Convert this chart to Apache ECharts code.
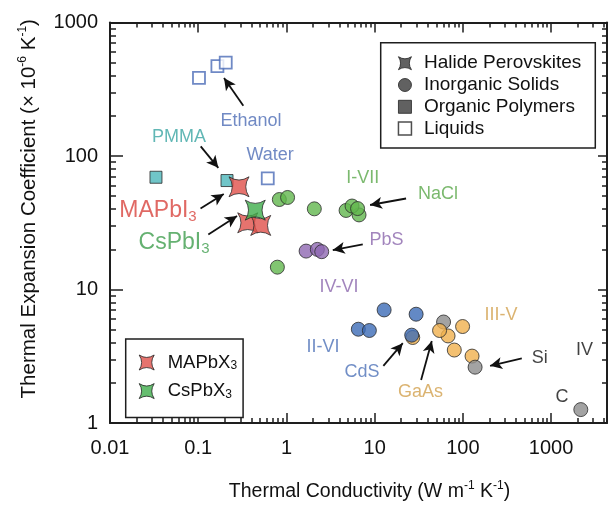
<!DOCTYPE html>
<html>
<head>
<meta charset="utf-8">
<script src="https://cdn.jsdelivr.net/npm/echarts@6/dist/echarts.min.js"></script>
<style>
  html, body { margin: 0; padding: 0; background: #fff; }
  #chart { width: 609px; height: 507px; }
</style>
</head>
<body>
<div id="chart"></div>
<script>
// Each point: [thermal conductivity (W m^-1 K^-1), thermal expansion coefficient (1e-6 K^-1)]
const liquids = [[0.102, 385], [0.165, 471], [0.205, 501], [0.614, 68]];
const polymers = [[0.0332, 69.3], [0.212, 65.5]];
const maPbX3 = [[0.290, 58.8], [0.364, 31.6], [0.511, 30.2]];
const csPbX3 = [[0.443, 39.3]];
const solidsI_VII = [[0.789, 14.7], [0.831, 47.2], [1.03, 48.9], [2.07, 40.2],
                     [4.74, 39.1], [6.65, 36.2], [5.54, 42.2], [6.40, 40.4]];
const solidsIV_VI = [[1.67, 19.4], [2.24, 19.97], [2.51, 19.2]];
const solidsII_VI = [[6.53, 5.04], [8.71, 4.93], [12.8, 7.03], [29.5, 6.53], [26.3, 4.55]];
const solidsIII_V = [[27.0, 4.37], [67.9, 4.49], [54.4, 4.93], [99.2, 5.28], [79.9, 3.52], [127, 3.17]];
const solidsIV = [[60.4, 5.71], [137.5, 2.62], [2170, 1.26]];

// Axis ranges and labelled decades
const xRange = [0.01, 4300];
const yRange = [1, 1000];
const xDecades = [0.01, 0.1, 1, 10, 100, 1000];
const yDecades = [1, 10, 100, 1000];

// Text annotations (anchored in data coordinates) and arrows (tail -> head)
const notes = [
  { text: 'Ethanol', at: [0.397, 183.9], color: '#4d6db5' },
  { text: 'PMMA', at: [0.0606, 139.6], color: '#3aa5a2' },
  { text: 'Water', at: [0.652, 102.4], color: '#4d6db5' },
  { text: '{big|MAPbI}{bsub|3}', at: [0.0350, 39.07], color: '#d8443d' },
  { text: '{big|CsPbI}{bsub|3}', at: [0.0532, 22.53], color: '#3f9e4e' },
  { text: 'I-VII', at: [7.35, 67.8], color: '#5aa84a' },
  { text: 'NaCl', at: [52.3, 51.45], color: '#5aa84a' },
  { text: 'PbS', at: [13.64, 23.32], color: '#8b66ad' },
  { text: 'IV-VI', at: [3.95, 10.38], color: '#8b66ad' },
  { text: 'II-VI', at: [2.60, 3.70], color: '#4d72b8' },
  { text: 'CdS', at: [7.20, 2.405], color: '#4d72b8' },
  { text: 'GaAs', at: [33.1, 1.705], color: '#d2a04e' },
  { text: 'III-V', at: [271, 6.415], color: '#d2a04e' },
  { text: 'Si', at: [741, 3.06], color: '#111' },
  { text: 'IV', at: [2398, 3.54], color: '#111' },
  { text: 'C', at: [1332, 1.564], color: '#111' }
];
const arrows = [
  [[0.3246, 238.1], [0.1961, 383.5]],
  [[0.1067, 118.1], [0.1690, 81.5]],
  [[0.1062, 40.45], [0.1946, 51.9]],
  [[0.1302, 25.86], [0.2754, 35.55]],
  [[22.7, 48.05], [8.87, 42.95]],
  [[7.33, 21.77], [3.35, 19.74]],
  [[12.55, 2.68], [20.83, 3.96]],
  [[33.6, 2.096], [44.4, 4.12]],
  [[465.4, 3.045], [203.4, 2.68]]
];

const INK = '#1e1e1e';
const EDGE = '#2b2b2b';
const FONT = '"Liberation Sans", Arial, Helvetica, sans-serif';
const STAR = 'path://M-10,-10 Q0,-3.5 10,-10 Q3.5,0 10,10 Q0,3.5 -10,10 Q-3.5,0 -10,-10 Z';
const SQUARE = 'path://M0,0 L10,0 L10,10 L0,10 Z';

// Minor tick positions (2..9 within each decade), expressed in log10 space
function minorLogTicks(lo, hi) {
  const out = [];
  for (let d = Math.floor(Math.log10(lo)); d < Math.ceil(Math.log10(hi)); d++) {
    for (let k = 2; k <= 9; k++) {
      const v = k * Math.pow(10, d);
      if (v > lo && v < hi) out.push(Math.log10(v));
    }
  }
  return out;
}
const log10All = arr => arr.map(v => Math.log10(v));

// Tick-only axes drawn over the log axes (same pixel span, log10 units)
function tickAxis(position, range, values, len, withLine) {
  return {
    type: 'value', position,
    min: Math.log10(range[0]), max: Math.log10(range[1]),
    axisLine: { show: withLine, onZero: false, lineStyle: { color: INK, width: 2 } },
    axisTick: { show: true, inside: true, length: len, customValues: values,
                lineStyle: { color: INK, width: 1.5 } },
    axisLabel: { show: false, customValues: values },
    splitLine: { show: false },
    silent: true
  };
}

function titleRich(size) {
  return {
    t: { fontSize: size, lineHeight: 24, fontFamily: FONT, color: '#111' },
    s: { fontSize: 12, lineHeight: 13, verticalAlign: 'top', fontFamily: FONT, color: '#111' }
  };
}

function circleSeries(name, data, color) {
  return {
    name, type: 'scatter', data, symbol: 'circle', symbolSize: 14,
    itemStyle: { color, borderColor: EDGE, borderWidth: 1 },
    z: 3
  };
}

const option = {
  animation: false,
  backgroundColor: '#fff',
  textStyle: { fontFamily: FONT },
  grid: { left: 110, right: 2, top: 22.5, bottom: 83, containLabel: false },
  xAxis: [
    {
      type: 'log', position: 'bottom', min: xRange[0], max: xRange[1], logBase: 10,
      name: '{t|Thermal Conductivity (W m}{s|-1}{t| K}{s|-1}{t|)}',
      nameLocation: 'middle', nameGap: 57,
      nameTextStyle: { rich: titleRich(19.5), padding: [0, 0, 0, 22] },
      axisLine: { show: true, onZero: false, lineStyle: { color: INK, width: 2 } },
      axisTick: { show: true, inside: true, length: 10, lineStyle: { color: INK, width: 1.5 } },
      axisLabel: {
        fontSize: 20, color: '#111', margin: 15, fontFamily: FONT, showMaxLabel: false,
        formatter: v => xDecades.some(d => Math.abs(Math.log10(v) - Math.log10(d)) < 1e-6)
          ? String(+v.toPrecision(3)) : ''
      },
      splitLine: { show: false }
    },
    tickAxis('bottom', xRange, minorLogTicks(xRange[0], xRange[1]), 5, false),
    tickAxis('top', xRange, log10All(xDecades), 10, true),
    tickAxis('top', xRange, minorLogTicks(xRange[0], xRange[1]), 5, false)
  ],
  yAxis: [
    {
      type: 'log', position: 'left', min: yRange[0], max: yRange[1], logBase: 10,
      name: '{t|Thermal Expansion Coefficient (× 10}{s|-6}{t| K}{s|-1}{t|)}',
      nameLocation: 'middle', nameGap: 69,
      nameTextStyle: { rich: titleRich(20.5), padding: [0, 0, 0, 28] },
      axisLine: { show: true, onZero: false, lineStyle: { color: INK, width: 2 } },
      axisTick: { show: true, inside: true, length: 13, lineStyle: { color: INK, width: 1.5 } },
      axisLabel: {
        fontSize: 20, color: '#111', margin: 12, fontFamily: FONT,
        formatter: v => String(+v.toPrecision(3))
      },
      splitLine: { show: false }
    },
    tickAxis('left', yRange, minorLogTicks(yRange[0], yRange[1]), 6, false),
    tickAxis('right', yRange, log10All(yDecades), 9, true),
    tickAxis('right', yRange, minorLogTicks(yRange[0], yRange[1]), 5, false)
  ],
  legend: [
    {
      orient: 'vertical', left: 380.7, top: 42.7,
      padding: [11, 14, 10, 17], itemGap: 2.8, itemWidth: 28, itemHeight: 13,
      borderColor: INK, borderWidth: 1.5, backgroundColor: '#fff',
      selectedMode: false,
      textStyle: { fontSize: 19, lineHeight: 19, color: '#111', fontFamily: FONT },
      data: [
        { name: 'Halide Perovskites', icon: STAR, itemStyle: { color: '#3a3a3a', borderColor: '#222', borderWidth: 1 } },
        { name: 'Inorganic Solids', icon: 'circle', itemStyle: { color: '#3a3a3a', borderColor: '#222', borderWidth: 1 } },
        { name: 'Organic Polymers', icon: SQUARE, itemStyle: { color: '#3a3a3a', borderColor: '#222', borderWidth: 1 } },
        { name: 'Liquids', icon: SQUARE, itemStyle: { color: '#fff', borderColor: '#222', borderWidth: 1.5 } }
      ]
    },
    {
      orient: 'vertical', left: 125.7, top: 339,
      padding: [14, 6, 17, 13], itemGap: 9.6, itemWidth: 32, itemHeight: 15,
      borderColor: INK, borderWidth: 1.5, backgroundColor: '#fff',
      selectedMode: false,
      formatter: n => n === 'MAPbX3' ? '{a|MAPbX}{b|3}' : '{a|CsPbX}{b|3}',
      textStyle: {
        fontSize: 18.5, color: '#111', fontFamily: FONT,
        rich: {
          a: { fontSize: 18.5, lineHeight: 19, fontFamily: FONT, color: '#111' },
          b: { fontSize: 12, lineHeight: 12, verticalAlign: 'bottom', fontFamily: FONT, color: '#111' }
        }
      },
      data: [
        { name: 'MAPbX3', icon: STAR, itemStyle: { color: '#e0504a', borderColor: '#222', borderWidth: 1 } },
        { name: 'CsPbX3', icon: STAR, itemStyle: { color: '#3fae4b', borderColor: '#222', borderWidth: 1 } }
      ]
    }
  ],
  series: [
    // legend-only entries for the material classes
    { name: 'Halide Perovskites', type: 'scatter', data: [] },
    { name: 'Inorganic Solids', type: 'scatter', data: [] },
    { name: 'Organic Polymers', type: 'scatter', data: [] },
    { name: 'Liquids', type: 'scatter', data: [] },

    {
      name: 'liquid', type: 'scatter', data: liquids, symbol: SQUARE, symbolSize: 12,
      itemStyle: { color: '#fff', borderColor: '#4b6cb7', borderWidth: 1.8 }, z: 3
    },
    {
      name: 'polymer', type: 'scatter', data: polymers, symbol: SQUARE, symbolSize: 12,
      itemStyle: { color: '#4cb6ba', borderColor: EDGE, borderWidth: 1 }, z: 3
    },
    circleSeries('I-VII', solidsI_VII, '#62b74d'),
    circleSeries('IV-VI', solidsIV_VI, '#8e68b2'),
    circleSeries('IV (Ge)', solidsIV.slice(0, 1), '#8c8c8c'),
    circleSeries('III-V', solidsIII_V, '#f0b04e'),
    circleSeries('II-VI', solidsII_VI, '#3c6cb6'),
    circleSeries('IV', solidsIV.slice(1), '#8c8c8c'),
    {
      name: 'MAPbX3', type: 'scatter', data: maPbX3, symbol: STAR, symbolSize: 20,
      itemStyle: { color: '#e0504a', borderColor: EDGE, borderWidth: 1 }, z: 4
    },
    {
      name: 'CsPbX3', type: 'scatter', data: csPbX3, symbol: STAR, symbolSize: 20,
      itemStyle: { color: '#3fae4b', borderColor: EDGE, borderWidth: 1 }, z: 4
    },
    {
      name: 'annotations', type: 'scatter', symbolSize: 0, silent: true, z: 6,
      itemStyle: { color: 'transparent' },
      data: notes.map(n => ({
        value: n.at,
        label: { formatter: n.text, color: n.color }
      })),
      label: {
        show: true, position: 'inside', fontSize: 18, fontFamily: FONT,
        align: 'center', verticalAlign: 'middle',
        rich: {
          big: { fontSize: 23, lineHeight: 28, fontFamily: FONT },
          bsub: { fontSize: 15, lineHeight: 15, verticalAlign: 'bottom', fontFamily: FONT }
        }
      },
      markLine: {
        silent: true, symbol: ['none', 'arrow'], symbolSize: [9, 12],
        lineStyle: { color: '#111', width: 1.8, type: 'solid' },
        label: { show: false },
        emphasis: { disabled: true },
        data: arrows.map(a => [{ coord: a[0] }, { coord: a[1] }])
      }
    }
  ]
};

const chart = echarts.init(document.getElementById('chart'));
chart.setOption(option);
</script>
</body>
</html>
